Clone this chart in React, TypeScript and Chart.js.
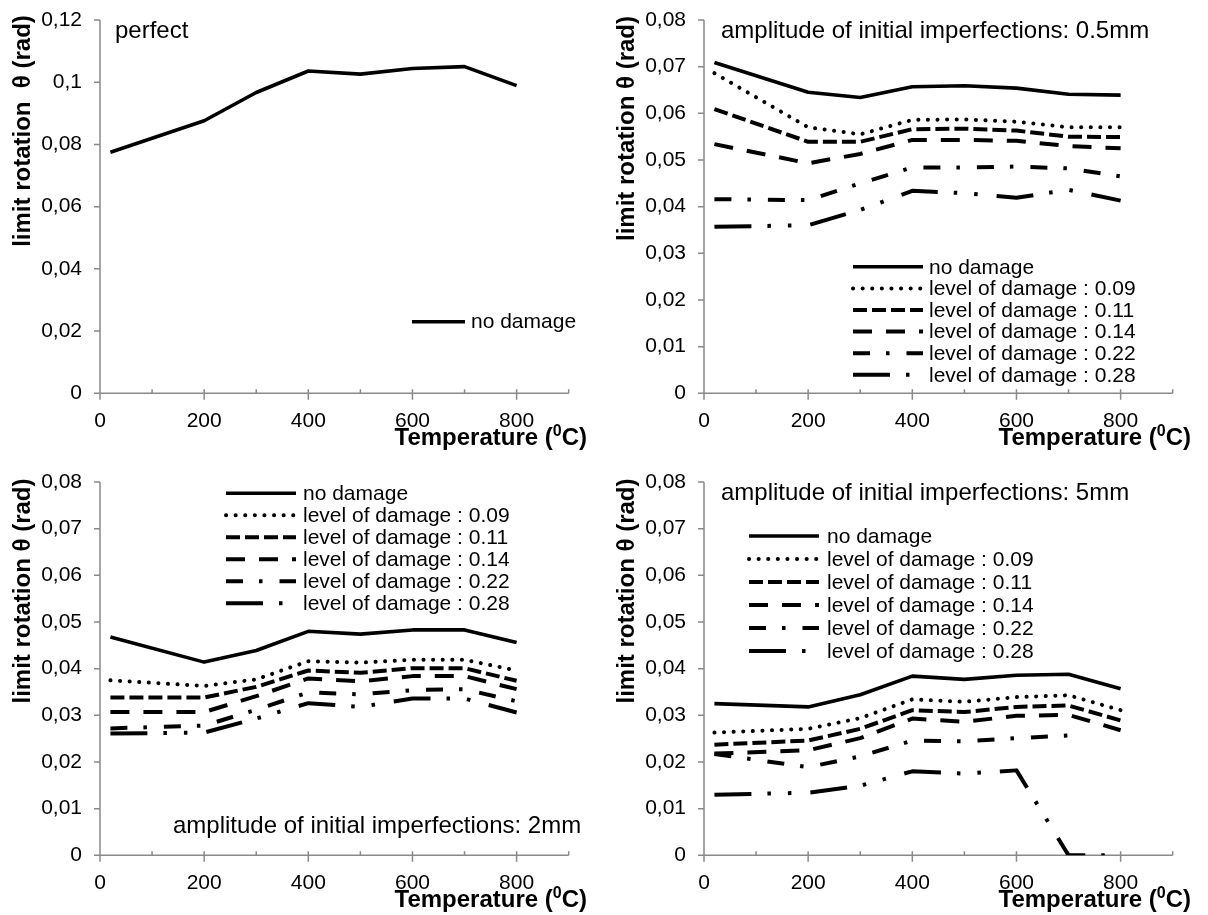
import React, { useEffect, useRef } from "react";
import { Chart, registerables } from "chart.js";

Chart.register(...registerables);

// ---------- data ----------
const temperatures = [20, 200, 300, 400, 500, 600, 700, 800];

const seriesLabels = [
  "no damage",
  "level of damage : 0.09",
  "level of damage : 0.11",
  "level of damage : 0.14",
  "level of damage : 0.22",
  "level of damage : 0.28",
];

// perfect
const perfectNoDamage = [0.0775, 0.0876, 0.0967, 0.1036, 0.1026, 0.1044, 0.105, 0.0989];

// amplitude 0.5 mm
const imp05NoDamage = [0.0709, 0.0645, 0.0634, 0.0657, 0.0659, 0.0654, 0.0641, 0.0639];
const imp05Dmg009 = [0.0686, 0.057, 0.0555, 0.0586, 0.0587, 0.0582, 0.057, 0.057];
const imp05Dmg011 = [0.0609, 0.0539, 0.0539, 0.0566, 0.0567, 0.0563, 0.055, 0.0549];
const imp05Dmg014 = [0.0534, 0.0493, 0.0513, 0.0543, 0.0543, 0.0541, 0.053, 0.0525];
const imp05Dmg022 = [0.0416, 0.0414, 0.045, 0.0484, 0.0484, 0.0486, 0.0482, 0.0465];
const imp05Dmg028 = [0.0357, 0.036, 0.0393, 0.0434, 0.0429, 0.0419, 0.0436, 0.0413];

// amplitude 2 mm
const imp2NoDamage = [0.0468, 0.0414, 0.0439, 0.048, 0.0474, 0.0483, 0.0483, 0.0456];
const imp2Dmg009 = [0.0375, 0.0363, 0.0377, 0.0416, 0.0413, 0.0419, 0.0419, 0.0396];
const imp2Dmg011 = [0.0338, 0.0338, 0.0361, 0.0396, 0.0391, 0.0401, 0.0401, 0.0374];
const imp2Dmg014 = [0.0307, 0.0307, 0.0341, 0.0379, 0.0373, 0.0384, 0.0384, 0.0356];
const imp2Dmg022 = [0.0272, 0.0278, 0.0312, 0.0349, 0.0345, 0.0354, 0.0356, 0.033];
const imp2Dmg028 = [0.0261, 0.0263, 0.0293, 0.0326, 0.0318, 0.0336, 0.0336, 0.0306];

// amplitude 5 mm
const imp5NoDamage = [0.0325, 0.0318, 0.0344, 0.0384, 0.0377, 0.0386, 0.0388, 0.0357];
const imp5Dmg009 = [0.0263, 0.0271, 0.0294, 0.0334, 0.0329, 0.0339, 0.0343, 0.0311];
const imp5Dmg011 = [0.0237, 0.0246, 0.0271, 0.0311, 0.0307, 0.0318, 0.0321, 0.0289];
const imp5Dmg014 = [0.0218, 0.0225, 0.0251, 0.0293, 0.0286, 0.0299, 0.0301, 0.0268];
const imp5Dmg022 = [0.0217, 0.0189, 0.0212, 0.0246, 0.0244, 0.0251, 0.0257, null];
const imp5Dmg028 = [0.013, 0.0134, 0.0149, 0.018, 0.0175, 0.0182, 0, 0];

// axis / text
const xTitleMain = "Temperature (";
const xTitleSup = "0";
const xTitleEnd = "C)";
const yTitlePerfect = "limit rotation  θ (rad)";
const yTitle = "limit rotation θ (rad)";

// ---------- styles ----------
const FAMILY = '"Liberation Sans", Arial, Helvetica, sans-serif';
const AXIS_COLOR = "#898989";

const lineStyles = [
  { dash: [] as number[], width: 3.6, cap: "butt" },
  { dash: [0.1, 9.5], width: 4, cap: "round" },
  { dash: [14, 5], width: 4, cap: "butt" },
  { dash: [19, 14], width: 4, cap: "butt" },
  { dash: [17, 16, 3.5, 17], width: 4, cap: "butt" },
  { dash: [37, 16, 3.5, 17, 3.5, 19], width: 4, cap: "butt" },
];

type Panel = {
  left: number;
  top: number;
  height: number;
  yMax: number;
  yStep: number;
  series: (number | null)[][];
  yTitle: string;
  yTitleY: number;
  note: string;
  noteX: number;
  noteY: number;
  legend: { x: number; len: number; textX: number; y: number; step: number };
};

const W = 604;
const H = 453;
const AREA_TOP = 20;
const AREA_BOTTOM = 393.3;
const AREA_RIGHT = 568.7;
const AREA_LEFT = 100;

const panels: Panel[] = [
  {
    left: 0,
    top: 0,
    height: H,
    yMax: 0.12,
    yStep: 0.02,
    series: [perfectNoDamage],
    yTitle: yTitlePerfect,
    yTitleY: 131,
    note: "perfect",
    noteX: 115,
    noteY: 38,
    legend: { x: 412, len: 53, textX: 471, y: 321.7, step: 22 },
  },
  {
    left: 604,
    top: 0,
    height: H,
    yMax: 0.08,
    yStep: 0.01,
    series: [imp05NoDamage, imp05Dmg009, imp05Dmg011, imp05Dmg014, imp05Dmg022, imp05Dmg028],
    yTitle: yTitle,
    yTitleY: 128.5,
    note: "amplitude of initial imperfections: 0.5mm",
    noteX: 117,
    noteY: 38,
    legend: { x: 249, len: 70, textX: 325, y: 266.8, step: 21.6 },
  },
  {
    left: 0,
    top: 462,
    height: H,
    yMax: 0.08,
    yStep: 0.01,
    series: [imp2NoDamage, imp2Dmg009, imp2Dmg011, imp2Dmg014, imp2Dmg022, imp2Dmg028],
    yTitle: yTitle,
    yTitleY: 129,
    note: "amplitude of initial imperfections: 2mm",
    noteX: 173,
    noteY: 371,
    legend: { x: 226, len: 70, textX: 303, y: 31.3, step: 22 },
  },
  {
    left: 604,
    top: 462,
    height: H,
    yMax: 0.08,
    yStep: 0.01,
    series: [imp5NoDamage, imp5Dmg009, imp5Dmg011, imp5Dmg014, imp5Dmg022, imp5Dmg028],
    yTitle: yTitle,
    yTitleY: 129,
    note: "amplitude of initial imperfections: 5mm",
    noteX: 117,
    noteY: 38,
    legend: { x: 145, len: 70, textX: 223, y: 74, step: 23 },
  },
];

function formatY(v: number): string {
  const r = Math.round(v * 100) / 100;
  if (r === 0) return "0";
  return String(r).replace(".", ",");
}

function makeDecor(panel: Panel) {
  return {
    id: "excelDecor",
    beforeDatasetsDraw(chart: any) {
      const ctx: CanvasRenderingContext2D = chart.ctx;
      const { left, right, top, bottom } = chart.chartArea;
      const xs = chart.scales.x;
      const ys = chart.scales.y;
      ctx.save();
      ctx.strokeStyle = AXIS_COLOR;
      ctx.lineWidth = 1.5;
      ctx.beginPath();
      ctx.moveTo(left, top);
      ctx.lineTo(left, bottom);
      ctx.moveTo(left, bottom);
      ctx.lineTo(right, bottom);
      ys.ticks.forEach((t: any) => {
        const py = ys.getPixelForValue(t.value);
        ctx.moveTo(left - 6, py);
        ctx.lineTo(left, py);
      });
      xs.ticks.forEach((t: any) => {
        const px = xs.getPixelForValue(t.value);
        const major = t.value % 200 === 0 && t.value <= 800;
        ctx.moveTo(px, bottom - 4);
        ctx.lineTo(px, major ? bottom + 6.5 : bottom);
      });
      ctx.stroke();
      ctx.restore();
    },
    afterDatasetsDraw(chart: any) {
      const ctx: CanvasRenderingContext2D = chart.ctx;
      ctx.save();
      ctx.fillStyle = "#000";
      // note
      ctx.font = `24px ${FAMILY}`;
      ctx.textAlign = "left";
      ctx.textBaseline = "alphabetic";
      ctx.fillText(panel.note, panel.noteX, panel.noteY);

      // legend
      const lg = panel.legend;
      chart.data.datasets.forEach((ds: any, i: number) => {
        const y = lg.y + i * lg.step;
        ctx.save();
        ctx.strokeStyle = ds.borderColor;
        ctx.lineWidth = ds.borderWidth;
        ctx.setLineDash(ds.borderDash || []);
        ctx.lineCap = ds.borderCapStyle;
        ctx.beginPath();
        ctx.moveTo(lg.x, y);
        ctx.lineTo(lg.x + lg.len, y);
        ctx.stroke();
        ctx.restore();
        ctx.font = `21px ${FAMILY}`;
        ctx.textBaseline = "middle";
        ctx.textAlign = "left";
        ctx.fillText(ds.label, lg.textX, y + 1);
      });

      // y title
      ctx.save();
      ctx.translate(23, panel.yTitleY);
      ctx.rotate(-Math.PI / 2);
      ctx.font = `bold 24px ${FAMILY}`;
      ctx.textAlign = "center";
      ctx.textBaseline = "middle";
      ctx.fillText(panel.yTitle, 0, 0);
      ctx.restore();

      // x title (right aligned, with superscript)
      const bold = `bold 24px ${FAMILY}`;
      const sup = `bold 16px ${FAMILY}`;
      ctx.font = bold;
      const w1 = ctx.measureText(xTitleMain).width;
      const w3 = ctx.measureText(xTitleEnd).width;
      ctx.font = sup;
      const w2 = ctx.measureText(xTitleSup).width;
      let x = 587 - (w1 + w2 + w3);
      const base = 445;
      ctx.textAlign = "left";
      ctx.textBaseline = "alphabetic";
      ctx.font = bold;
      ctx.fillText(xTitleMain, x, base);
      x += w1;
      ctx.font = sup;
      ctx.fillText(xTitleSup, x, base - 9);
      x += w2;
      ctx.font = bold;
      ctx.fillText(xTitleEnd, x, base);
      ctx.restore();
    },
  };
}

function ChartPanel({ panel }: { panel: Panel }) {
  const ref = useRef<HTMLCanvasElement>(null);
  useEffect(() => {
    if (!ref.current) return;
    const datasets = panel.series.map((vals, i) => {
      const st = lineStyles[i];
      return {
        label: seriesLabels[i],
        data: temperatures.map((t, k) => ({ x: t, y: vals[k] })),
        borderColor: "#000",
        backgroundColor: "#000",
        borderWidth: st.width,
        borderDash: st.dash,
        borderCapStyle: st.cap,
        borderJoinStyle: "round",
        pointRadius: 0,
        pointHoverRadius: 0,
        fill: false,
        tension: 0,
        spanGaps: false,
      };
    });
    const chart = new Chart(ref.current, {
      type: "line",
      data: { datasets } as any,
      options: {
        animation: false,
        responsive: false,
        maintainAspectRatio: false,
        devicePixelRatio: 1,
        events: [],
        layout: { padding: { top: AREA_TOP, right: W - AREA_RIGHT, left: 0, bottom: 0 } },
        plugins: {
          legend: { display: false },
          tooltip: { enabled: false },
          title: { display: false },
        },
        scales: {
          x: {
            type: "linear",
            min: 0,
            max: 900,
            afterFit: (s: any) => {
              s.height = panel.height - AREA_BOTTOM;
              s.paddingLeft = 0;
              s.paddingRight = 0;
              s.paddingTop = 0;
              s.paddingBottom = 0;
            },
            grid: { display: false, drawTicks: false },
            border: { display: false },
            ticks: {
              stepSize: 100,
              autoSkip: false,
              maxRotation: 0,
              minRotation: 0,
              padding: 15,
              color: "#000",
              font: { family: FAMILY, size: 21 },
              callback: (v: any) => (Number(v) % 200 === 0 && Number(v) <= 800 ? String(v) : ""),
            },
          },
          y: {
            type: "linear",
            min: 0,
            max: panel.yMax,
            afterFit: (s: any) => {
              s.width = AREA_LEFT;
              s.paddingTop = 0;
              s.paddingBottom = 0;
              s.paddingLeft = 0;
              s.paddingRight = 0;
            },
            grid: { display: false, drawTicks: false },
            border: { display: false },
            ticks: {
              stepSize: panel.yStep,
              padding: 18,
              color: "#000",
              font: { family: FAMILY, size: 21 },
              callback: (v: any) => formatY(Number(v)),
            },
          },
        },
      } as any,
      plugins: [makeDecor(panel)],
    });
    return () => chart.destroy();
  }, [panel]);
  return (
    <canvas
      ref={ref}
      width={W}
      height={panel.height}
      style={{ position: "absolute", left: panel.left, top: panel.top, width: W, height: panel.height }}
    />
  );
}

export default function App() {
  return (
    <div
      style={{
        position: "absolute",
        left: 0,
        top: 0,
        width: 1208,
        height: 915,
        background: "#fff",
        overflow: "hidden",
      }}
    >
      {panels.map((p, i) => (
        <ChartPanel key={i} panel={p} />
      ))}
    </div>
  );
}
